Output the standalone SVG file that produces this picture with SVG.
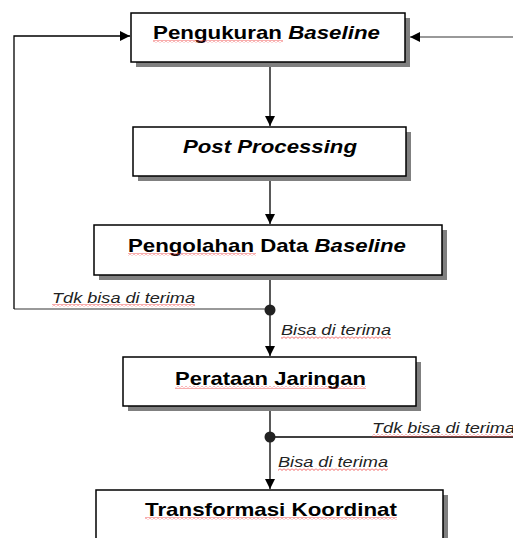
<svg xmlns="http://www.w3.org/2000/svg" width="513" height="538" viewBox="0 0 513 538">
<defs>
<style>
.box{fill:#fff;stroke:#000;stroke-width:1.5}
.shadow{fill:#808080}
.t{font-family:"Liberation Sans",Arial,sans-serif;font-weight:bold;font-size:19px;fill:#000}
.lbl{font-family:"Liberation Sans",Arial,sans-serif;font-style:italic;font-size:15px;fill:#222}
.ln{stroke:#000;stroke-width:1.3;fill:none}
.lg{stroke:#777;stroke-width:1.3;fill:none}
.sq{fill:url(#zig)}
</style>
<pattern id="zig" width="4" height="3" patternUnits="userSpaceOnUse">
<path d="M0,0.5 L2,2.5 L4,0.5" stroke="#e33" stroke-width="0.8" fill="none"/>
</pattern>
<marker id="ah" viewBox="0 0 10 10" refX="10" refY="5" markerWidth="10" markerHeight="10" markerUnits="userSpaceOnUse" orient="auto">
<path d="M0,0 L10,5 L0,10 Z" fill="#000"/>
</marker>
</defs>

<g id="connectors">
<line class="ln" x1="270" y1="62" x2="270" y2="126" marker-end="url(#ah)"/>
<line class="ln" x1="270" y1="176" x2="270" y2="224" marker-end="url(#ah)"/>
<line class="ln" x1="270" y1="275" x2="270" y2="356" marker-end="url(#ah)"/>
<polyline class="lg" points="270,309 14,309"/>
<polyline class="ln" points="14,309 14,36 130,36" marker-end="url(#ah)"/>
<line class="lg" x1="513" y1="37" x2="410" y2="37" marker-end="url(#ah)"/>
<line class="ln" x1="270" y1="406" x2="270" y2="489" marker-end="url(#ah)"/>
<line class="ln" x1="270" y1="437" x2="513" y2="437"/>
<circle cx="270" cy="310" r="5.5" fill="#222"/>
<circle cx="270" cy="437" r="5.5" fill="#222"/>
<text class="lbl" x="52" y="303" textLength="143" lengthAdjust="spacingAndGlyphs">Tdk bisa di terima</text>
<rect class="sq" x="52" y="304" width="143" height="3"/>
<text class="lbl" x="281" y="335" textLength="110" lengthAdjust="spacingAndGlyphs">Bisa di terima</text>
<rect class="sq" x="281" y="336" width="110" height="3"/>
<text class="lbl" x="372" y="433" textLength="143" lengthAdjust="spacingAndGlyphs">Tdk bisa di terima</text>
<rect class="sq" x="372" y="434" width="141" height="3"/>
<text class="lbl" x="278" y="467" textLength="110" lengthAdjust="spacingAndGlyphs">Bisa di terima</text>
<rect class="sq" x="278" y="468" width="110" height="3"/>
</g>

<g id="node1">
<rect class="shadow" x="136" y="18" width="274" height="49"/>
<rect class="box" x="131" y="13" width="274" height="49"/>
<text class="t" x="153" y="39" textLength="227" lengthAdjust="spacingAndGlyphs">Pengukuran <tspan font-style="italic">Baseline</tspan></text>
<rect class="sq" x="153" y="40" width="130" height="3"/>
</g>

<g id="node2">
<rect class="shadow" x="138" y="132" width="273" height="49"/>
<rect class="box" x="133" y="127" width="273" height="49"/>
<text class="t" x="183" y="153" font-style="italic" textLength="174" lengthAdjust="spacingAndGlyphs">Post Processing</text>
</g>

<g id="node3">
<rect class="shadow" x="99" y="230" width="348" height="50"/>
<rect class="box" x="94" y="225" width="348" height="50"/>
<text class="t" x="128" y="252" textLength="278" lengthAdjust="spacingAndGlyphs">Pengolahan Data <tspan font-style="italic">Baseline</tspan></text>
<rect class="sq" x="128" y="253" width="128" height="3"/>
</g>

<g id="node4">
<rect class="shadow" x="128" y="362" width="293" height="49"/>
<rect class="box" x="123" y="357" width="293" height="49"/>
<text class="t" x="175" y="385" textLength="191" lengthAdjust="spacingAndGlyphs">Perataan Jaringan</text>
<rect class="sq" x="175" y="386" width="191" height="3"/>
</g>

<g id="node5">
<rect class="shadow" x="101" y="495" width="347" height="60"/>
<rect class="box" x="96" y="490" width="347" height="60"/>
<text class="t" x="145" y="516" textLength="252" lengthAdjust="spacingAndGlyphs">Transformasi Koordinat</text>
<rect class="sq" x="145" y="517" width="252" height="3"/>
</g>
</svg>
